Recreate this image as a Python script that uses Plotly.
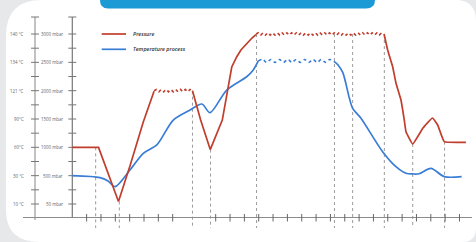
import numpy as np
import plotly.graph_objects as go

# ---------------- scales (both vertical axes share the same gridlines) ----------------
pressure_ticks = [50, 500, 1000, 1500, 2000, 2500, 3000]
pressure_labels = ["50 mbar", "500 mbar", "1000 mbar", "1500 mbar", "2000 mbar", "2500 mbar", "3000 mbar"]
temp_ticks = [10, 30, 60, 90, 121, 134, 140]
temp_labels = ["10 °C", "30 °C", "60°C", "90°C", "121 °C", "134 °C", "140 °C"]
time_ticks = [1, 2, 3, 4, 5, 6, 7, 10, 11, 12, 13, 14, 15, 16, 17, 18, 19, 20, 21, 22, 23, 24, 25, 26, 27]

# ---------------- pressure (mbar) ----------------
pressure_t_a = [0, 1.83, 3.22, 4.02, 4.95, 5.70]
pressure_a = [1000, 1000, 90, 670, 1447, 1990]
plateau1_span = [5.70, 8.38]
pressure_plateau1 = [2000, 2022, 1980, 2022, 1980, 2022, 1980, 2022, 1980,
                     2022, 1980, 2022, 1980, 2022, 1980, 2022, 2000]
pressure_t_b = [8.38, 8.95, 9.62, 10.46, 11.12, 11.46, 11.76, 12.18, 12.53, 12.81]
pressure_b = [2000, 1482, 960, 1482, 2418, 2595, 2718, 2840, 2930, 2990]
plateau2_span = [12.81, 21.74]
pressure_plateau2 = [3000, 3022, 2980, 3022, 2980, 3022, 2980, 3022, 2980, 3022, 2980,
                     3022, 2980, 3022, 2980, 3022, 2980, 3022, 2980, 3022, 2980,
                     3022, 2980, 3022, 2980, 3022, 2980, 3022, 2980, 3022, 2980,
                     3022, 2980, 3022, 2980, 3022, 2980, 3022, 2980, 3022, 2980,
                     3022, 2980, 3022, 2980, 3022, 2980, 3022, 2980, 3022, 2980,
                     3022, 2980, 3022, 3000]
pressure_t_c = [21.74, 21.99, 22.34, 22.57, 22.92, 23.15, 23.27, 23.74, 24.44, 25.12, 25.48, 25.94, 27.45]
pressure_c = [3000, 2718, 2423, 2136, 1836, 1482, 1276, 1059, 1336, 1518, 1394, 1100, 1089]

# ---------------- temperature process (°C) ----------------
temp_t_a = [0, 1.93, 2.49, 2.98, 4.02, 4.95, 5.89, 7.04, 8.21, 9.04, 9.60, 10.77, 12.16, 12.62, 12.97]
temp_a = [30, 28.6, 26.2, 22.2, 36, 53.7, 62.5, 88.9, 99.9, 106.4, 96.9, 121.3, 127.4, 130.5, 134.3]
temp_plateau_span = [12.97, 18.25]
temp_plateau = [134.3, 134.6, 134.0, 134.6, 134.0, 134.6, 134.0, 134.6, 134.0, 134.6,
                134.0, 134.6, 134.0, 134.6, 134.0, 134.6, 134.0, 134.6, 134.2]
temp_t_b = [18.25, 18.53, 18.86, 19.32, 19.55, 20.13, 21.64, 22.57, 23.27, 23.74, 24.18, 25.01, 25.94, 27.15]
temp_b = [134.2, 132.8, 129.4, 112.9, 101.7, 90.8, 55.4, 39.5, 32.5, 31.8, 32.0, 37.8, 29.3, 29.3]

# ---------------- phase markers (time, pressure at top of marker) ----------------
phase_t = [1.63, 3.28, 8.38, 9.64, 12.85, 18.28, 19.55, 21.76, 23.74, 25.96]
phase_top = [1000, 90, 2000, 960, 3000, 3000, 3000, 3000, 1059, 1100]

RED = "#c13d2c"
BLUE = "#3a7dd6"
AXIS = "#8c8c8c"
W, H = 476, 242
X0, XS = 72.3, 14.34      # pixel of time 0, pixels per time unit
Y0, YS = 204.0, 28.33     # pixel of level 0, pixels per level
levels = list(range(len(pressure_ticks)))


def to_level(v, ticks):
    v = np.asarray(v, dtype=float)
    out = np.interp(v, ticks, levels)
    hi = v > ticks[-1]
    out[hi] = levels[-1] + (v[hi] - ticks[-1]) / (ticks[-1] - ticks[-2])
    lo = v < ticks[0]
    out[lo] = (v[lo] - ticks[0]) / (ticks[1] - ticks[0])
    return out


def pl(v):
    return to_level(v, pressure_ticks)


def tl(v):
    return to_level(v, temp_ticks)


def px_t(px):
    return (px - X0) / XS


def py_l(py):
    return (Y0 - py) / YS


fig = go.Figure()

# phase markers
for t, top in zip(phase_t, phase_top):
    fig.add_trace(go.Scatter(x=[t, t], y=[float(pl([top])[0]), py_l(228)], mode="lines",
                             line=dict(color="#9a9a9a", width=1, dash="dot"), hoverinfo="skip"))

# axes lines
fig.add_trace(go.Scatter(x=[px_t(23), px_t(472)], y=[py_l(217.5)] * 2, mode="lines",
                         line=dict(color=AXIS, width=1.1), hoverinfo="skip"))
fig.add_trace(go.Scatter(x=[0, 0], y=[py_l(17), py_l(217.5)], mode="lines",
                         line=dict(color="#777", width=1.2), hoverinfo="skip"))
fig.add_trace(go.Scatter(x=[px_t(35)] * 2, y=[py_l(17), py_l(220)], mode="lines",
                         line=dict(color="#999", width=1.2), hoverinfo="skip"))

# ticks on vertical axes (major at labels, minor halfway, plus top cap)
vt = [i * 0.5 for i in range(13)] + [py_l(17)]
dx = 4 / XS
tx, ty = [], []
for ax_t in [0, px_t(35)]:
    for v in vt:
        tx += [ax_t - dx, ax_t + dx, None]
        ty += [v, v, None]
fig.add_trace(go.Scatter(x=tx, y=ty, mode="lines", line=dict(color="#777", width=1), hoverinfo="skip"))
# ticks on the time axis
hx, hy = [], []
for t in time_ticks:
    hx += [t, t, None]
    hy += [py_l(214), py_l(221.5), None]
fig.add_trace(go.Scatter(x=hx, y=hy, mode="lines", line=dict(color="#666", width=1), hoverinfo="skip"))

# temperature
fig.add_trace(go.Scatter(x=temp_t_a, y=tl(temp_a), mode="lines",
                         line=dict(color=BLUE, width=1.7, shape="spline", smoothing=0.8), hoverinfo="skip"))
fig.add_trace(go.Scatter(x=np.linspace(*temp_plateau_span, len(temp_plateau)), y=tl(temp_plateau), mode="lines",
                         line=dict(color=BLUE, width=1.6, dash="dot", shape="spline"), hoverinfo="skip"))
fig.add_trace(go.Scatter(x=temp_t_b, y=tl(temp_b), mode="lines",
                         line=dict(color=BLUE, width=1.7, shape="spline", smoothing=0.8), hoverinfo="skip"))

# pressure
fig.add_trace(go.Scatter(x=pressure_t_a, y=pl(pressure_a), mode="lines",
                         line=dict(color=RED, width=1.7), hoverinfo="skip"))
fig.add_trace(go.Scatter(x=np.linspace(*plateau1_span, len(pressure_plateau1)), y=pl(pressure_plateau1),
                         mode="lines", line=dict(color=RED, width=1.6, dash="dot"), hoverinfo="skip"))
fig.add_trace(go.Scatter(x=pressure_t_b, y=pl(pressure_b), mode="lines",
                         line=dict(color=RED, width=1.7), hoverinfo="skip"))
fig.add_trace(go.Scatter(x=np.linspace(*plateau2_span, len(pressure_plateau2)), y=pl(pressure_plateau2),
                         mode="lines", line=dict(color=RED, width=1.6, dash="dot"), hoverinfo="skip"))
fig.add_trace(go.Scatter(x=pressure_t_c, y=pl(pressure_c), mode="lines",
                         line=dict(color=RED, width=1.7, shape="spline", smoothing=0.3), hoverinfo="skip"))

# axis labels
ann = []
for lv, lab in zip(levels, temp_labels):
    ann.append(dict(x=px_t(25.5), y=lv, text=lab, xanchor="right", yanchor="middle", showarrow=False,
                    font=dict(size=4.4, color="#666", family="Open Sans")))
for lv, lab in zip(levels, pressure_labels):
    ann.append(dict(x=px_t(65), y=lv, text=lab, xanchor="right", yanchor="middle", showarrow=False,
                    font=dict(size=4.4, color="#666", family="Open Sans")))

# legend
leg = [("Pressure", RED, 34), ("Temperature process", BLUE, 49.3)]
for name, col, py in leg:
    fig.add_trace(go.Scatter(x=[px_t(101.7), px_t(126)], y=[py_l(py)] * 2, mode="lines",
                             line=dict(color=col, width=1.7), hoverinfo="skip"))
    ann.append(dict(x=px_t(131), y=py_l(py), text=name, xanchor="left", yanchor="middle", showarrow=False,
                    font=dict(size=5.4, color="#333", family="Open Sans", style="italic", weight=600)))


def pp(px, py):
    return f"{px / W:.5f},{1 - py / H:.5f}"


card = ("M " + pp(6, 250) + " L " + pp(6, 36) + " Q " + pp(6, 0) + " " + pp(42, 0) +
        " L " + pp(455, 0) + " Q " + pp(476, 0) + " " + pp(476, 21) +
        " L " + pp(476, 228) + " Q " + pp(476, 242) + " " + pp(462, 242) +
        " L " + pp(40, 242) + " Q " + pp(6, 242) + " " + pp(6, 210) + " Z")
banner = ("M " + pp(100, -2) + " L " + pp(100, 0) + " Q " + pp(100, 8.5) + " " + pp(108, 8.5) +
          " L " + pp(366, 8.5) + " Q " + pp(375, 8.5) + " " + pp(375, 0) + " L " + pp(375, -2) + " Z")
shapes = [
    dict(type="path", path=card, xref="paper", yref="paper", fillcolor="white", line=dict(width=0), layer="below"),
    dict(type="path", path=banner, xref="paper", yref="paper", fillcolor="#1b9ad6", line=dict(width=0), layer="below"),
]

fig.update_layout(
    width=W, height=H, margin=dict(l=0, r=0, t=0, b=0, autoexpand=False),
    paper_bgcolor="#e6e8ea", plot_bgcolor="rgba(0,0,0,0)", showlegend=False,
    xaxis=dict(range=[px_t(0), px_t(W)], visible=False, fixedrange=True),
    yaxis=dict(range=[py_l(H), py_l(0)], visible=False, fixedrange=True),
    annotations=ann, shapes=shapes,
)
fig.write_html("out.html", config={"displayModeBar": False},
               post_script="document.body.style.margin='0';document.body.style.overflow='hidden';")
